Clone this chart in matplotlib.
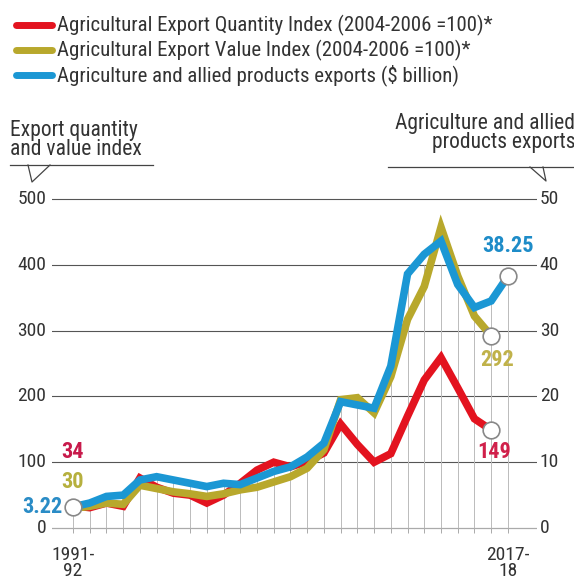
import numpy as np
import matplotlib
matplotlib.use("Agg")
import matplotlib.pyplot as plt
from matplotlib import font_manager

# pick the narrowest installed face available
names = {f.name for f in font_manager.fontManager.ttflist}
FAM = next((n for n in ['Roboto Condensed', 'Liberation Sans Narrow', 'DejaVu Sans Condensed',
                        'Open Sans Condensed', 'Roboto', 'DejaVu Sans'] if n in names),
           'DejaVu Sans')
plt.rcParams['font.family'] = [FAM, 'DejaVu Sans']

# ---- data ----
years = ["1991-92", "1992-93", "1993-94", "1994-95", "1995-96", "1996-97", "1997-98",
         "1998-99", "1999-00", "2000-01", "2001-02", "2002-03", "2003-04", "2004-05",
         "2005-06", "2006-07", "2007-08", "2008-09", "2009-10", "2010-11", "2011-12",
         "2012-13", "2013-14", "2014-15", "2015-16", "2016-17", "2017-18"]
qty_index = [34, 31, 38, 33, 76, 62, 53, 50, 38, 50, 68, 88, 100, 93, 101, 114, 158,
             127, 100, 113, 170, 225, 259, 213, 166, 149]
value_index = [30, 33, 38, 36, 65, 60, 55, 52, 48, 52, 58, 62, 70, 78, 91, 119, 195,
               198, 175, 230, 317, 367, 457, 383, 322, 292]
exports_bn = [3.22, 3.8, 4.8, 5.0, 7.3, 7.8, 7.3, 6.8, 6.3, 6.8, 6.6, 7.6, 8.6, 9.3,
              10.8, 12.9, 19.2, 18.7, 18.2, 24.6, 38.6, 41.6, 43.6, 37.0, 33.5, 34.5, 38.25]
left_ticks = [0, 100, 200, 300, 400, 500]
right_ticks = [0, 10, 20, 30, 40, 50]

RED = "#e3131f"
GOLD = "#b8a82c"
BLUE = "#1b97d4"
GRID = "#555555"
TXT = "#333333"

narrow = FAM != 'DejaVu Sans'
fs = 15 if narrow else 11.5

fig = plt.figure(figsize=(5.74, 5.82), dpi=100)
ax = fig.add_axes([52 / 574, 0.0701, 485 / 574, 0.6107])
ax.set_xlim(-1.255, 27.74)
ax.set_ylim(-20, 520)
ax.axis('off')
ax2 = ax.twinx()
ax2.set_ylim(-2, 52)
ax2.axis('off')

x = np.arange(len(years))
xq = np.arange(len(qty_index))

# horizontal grid
for t in left_ticks[1:]:
    ax.axhline(t, color=GRID, lw=0.8, zorder=1)
ax.axhline(0, color="#aaaaaa", lw=0.9, zorder=1)

# vertical guides from baseline up to the series
tops = [max(qty_index[i] if i < len(qty_index) else 0,
            value_index[i] if i < len(value_index) else 0,
            exports_bn[i] * 10) for i in x]
tops = [min(t, 400) for t in tops]
ax.vlines(x, 0, tops, color="#bbbbbb", lw=0.7, zorder=1)
ax.vlines(x, -8, 0, color="#aaaaaa", lw=0.7, zorder=1)

# tick labels
tfs = fs - 1
for t, r in zip(left_ticks, right_ticks):
    ax.text(-1.6, t, str(t), ha='right', va='center', fontsize=tfs, color=TXT)
    ax.text(27.9, t, str(r), ha='left', va='center', fontsize=tfs, color=TXT)

ax.text(0, -28, "1991-\n92", ha='center', va='top', fontsize=tfs, color=TXT,
        linespacing=0.85)
ax.text(26, -28, "2017-\n18", ha='center', va='top', fontsize=tfs, color=TXT,
        linespacing=0.85)

# series
ax.plot(xq, qty_index, color=RED, lw=5.5, solid_joinstyle='miter', zorder=3)
ax.plot(xq, value_index, color=GOLD, lw=5.5, solid_joinstyle='miter', zorder=4)
ax2.plot(x, exports_bn, color=BLUE, lw=5.5, solid_joinstyle='miter', zorder=5)

mk = dict(marker='o', ms=12, mfc='white', mec='#888888', mew=1.2, ls='none')
ax.plot(xq[-1], qty_index[-1], zorder=6, **mk)
ax.plot(xq[-1], value_index[-1], zorder=6, **mk)
ax2.plot(x[-1], exports_bn[-1], zorder=6, **mk)
ax2.plot(x[0], exports_bn[0], zorder=6, **mk)

# value labels
vfs = 16 if narrow else 14
ax.text(-0.05, 116, "34", ha='center', va='center', fontsize=vfs, fontweight='bold',
        color="#c81a4b")
ax.text(-0.05, 70, "30", ha='center', va='center', fontsize=vfs, fontweight='bold',
        color="#b6b03e")
ax.text(-0.6, 32, "3.22", ha='right', va='center', fontsize=vfs, fontweight='bold',
        color="#2a8cc6")
ax.text(25.15, 116, "149", ha='center', va='center', fontsize=vfs, fontweight='bold',
        color="#d0204a")
ax.text(25.35, 255, "292", ha='center', va='center', fontsize=vfs, fontweight='bold',
        color="#c0b24a")
ax.text(26.0, 428, "38.25", ha='center', va='center', fontsize=vfs, fontweight='bold',
        color="#1e8cc8")

# axis captions with speech pointers
cfs = 15.5 if narrow else 12.5
fig.text(10 / 574, 1 - 140 / 582, "Export quantity\nand value index", ha='left',
         va='center', fontsize=cfs, color=TXT, linespacing=0.88)
fig.text(1 + 1 / 574, 1 - 133 / 582, "Agriculture and allied\nproducts exports",
         ha='right', va='center', fontsize=cfs, color=TXT, linespacing=0.88)
fig.add_artist(plt.Line2D([10 / 574, 153 / 574], [1 - 165 / 582] * 2, color="#444444",
                          lw=0.9))
fig.add_artist(plt.Line2D([28 / 574, 32 / 574, 50 / 574],
                          [1 - 165 / 582, 1 - 182 / 582, 1 - 165 / 582],
                          color="#444444", lw=0.9))
fig.add_artist(plt.Line2D([388 / 574, 574 / 574], [1 - 167 / 582] * 2, color="#444444",
                          lw=0.9))
fig.add_artist(plt.Line2D([530 / 574, 546 / 574, 543 / 574],
                          [1 - 167 / 582, 1 - 181 / 582, 1 - 167 / 582],
                          color="#444444", lw=0.9))

# legend
labels = ["Agricultural Export Quantity Index (2004-2006 =100)*",
          "Agricultural Export Value Index (2004-2006 =100)*",
          "Agriculture and allied products exports ($ billion)"]
colors = [RED, GOLD, BLUE]
lfs = 15 if narrow else 12
for k, (lab, c) in enumerate(zip(labels, colors)):
    yy = 1 - (25 + 25 * k) / 582
    fig.add_artist(plt.Line2D([16 / 574, 52 / 574], [yy, yy], color=c, lw=5,
                              solid_capstyle='round'))
    fig.text(57 / 574, yy, lab, ha='left', va='center', fontsize=lfs, color=TXT)

fig.savefig("out.png", dpi=100)
